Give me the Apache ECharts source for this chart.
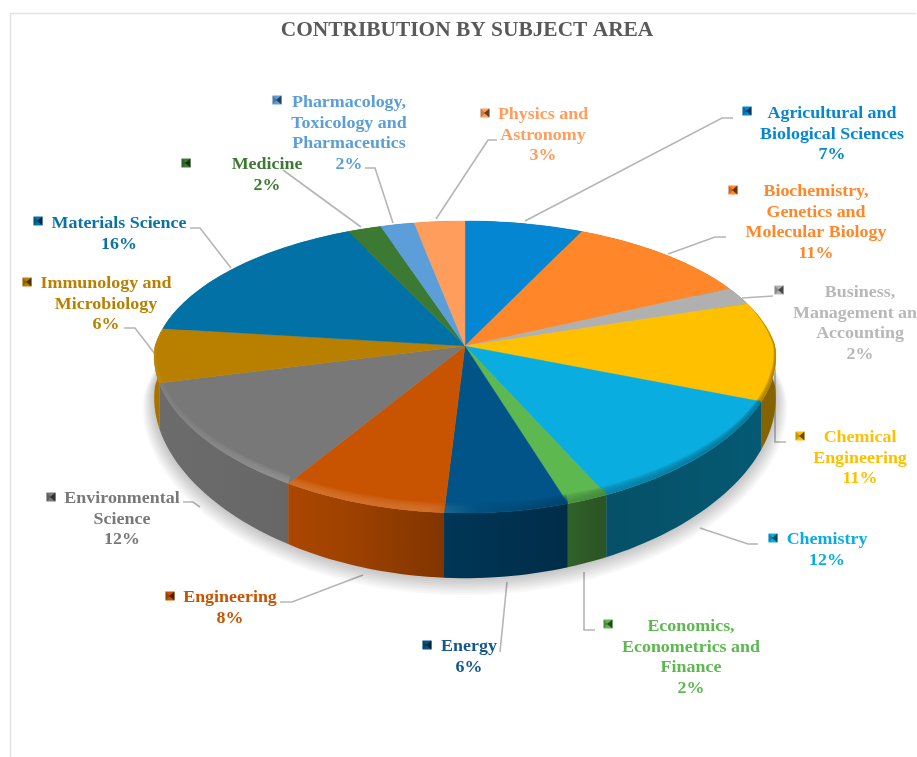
<!DOCTYPE html>
<html>
<head>
<meta charset="utf-8">
<style>html,body{margin:0;padding:0;background:#fff}#chart{width:917px;height:757px}</style>
<script src="https://cdn.jsdelivr.net/npm/echarts@6/dist/echarts.min.js"></script>
</head>
<body>
<div id="chart"></div>
<script>
// Share of publications per subject area, clockwise from twelve o'clock.
const categories = [
  'Agricultural and\nBiological Sciences',
  'Biochemistry,\nGenetics and\nMolecular Biology',
  'Business,\nManagement and\nAccounting',
  'Chemical\nEngineering',
  'Chemistry',
  'Economics,\nEconometrics and\nFinance',
  'Energy',
  'Engineering',
  'Environmental\nScience',
  'Immunology and\nMicrobiology',
  'Materials Science',
  'Medicine',
  'Pharmacology,\nToxicology and\nPharmaceutics',
  'Physics and\nAstronomy'
];
const shares = [7, 11, 2, 11, 12, 2, 6, 8, 12, 6, 16, 2, 2, 3];
const sliceColors = ['#0586d3', '#ff8729', '#b0b0b0', '#ffc000', '#0aade0', '#5cb84f', '#005487',
  '#c85300', '#787878', '#b98000', '#0271a6', '#3c7a34', '#5b9ed9', '#ff9e5c'];
const textColors = ['#0586d3', '#ff8729', '#b8b8b8', '#ffc000', '#0aade0', '#5cb84f', '#14568f',
  '#c85300', '#787878', '#b98000', '#0b72a6', '#3c7a34', '#5b9ed9', '#ff9e5c'];

// Annotation layout: label centre (x, y of the first line) and legend key centre.
const labelAt = [[832,113],[816,191],[860,292],[860,437],[827,539],[691,626],[469,646],
  [230,597],[122,498],[106,283],[119,223],[267,164],[349,102],[543,114]];
const keyAt = [[747,111],[733,190],[779,290],[800,436],[773,538],[608,624],[427,645],
  [170,596],[51,497],[27,282],[38,221],[186,163],[277,100],[485,113]];
const leaderPaths = [
  [[525,221],[722,118],[733,118]],
  [[668,254],[715,237],[726,237]],
  [[742,298],[773,296]],
  [[775,355],[775,442],[786,442]],
  [[700,528],[748,544],[758,544]],
  [[584,572],[584,630],[595,630]],
  [[507,582],[500,652]],
  [[363,575],[292,602],[280,602]],
  [[200,507],[193,502],[183,502]],
  [[155,354],[135,328],[124,328]],
  [[231,268],[200,228],[190,228]],
  [[361,227],[283,170]],
  [[393,223],[375,168],[365,168]],
  [[436,219],[488,140],[497,140]]
];

// Tilted disc: a perspective projection of the unit circle, top and bottom faces.
const disc = { cx: 465, rx: 310, tilt: 0.144, topY: 346, topK: 143, baseY: 386, baseK: 164.5 };
function project(deg, ru, rv, level) {
  const a = deg * Math.PI / 180;
  const u = ru * Math.sin(a), v = -rv * Math.cos(a), d = 1 - disc.tilt * v;
  const dx = v < 0 ? d : 1 - disc.tilt * 0.5 * v;
  const y = level === 'top' ? disc.topY + disc.topK * v / d : disc.baseY + disc.baseK * v / d;
  return [disc.cx + disc.rx * u / dx, y];
}
function arcPoints(a0, a1, ru, rv, level) {
  const n = Math.max(2, Math.ceil((a1 - a0) / 1.5)), pts = [];
  for (let i = 0; i <= n; i++) pts.push(project(a0 + (a1 - a0) * i / n, ru, rv, level));
  return pts;
}
const total = shares.reduce((s, v) => s + v, 0);
function sliceRange(i) {
  let before = 0;
  for (let k = 0; k < i; k++) before += shares[k];
  return [before / total * 360, (before + shares[i]) / total * 360];
}

function rgb(hex) { return [1, 3, 5].map(p => parseInt(hex.substr(p, 2), 16)); }
function shade(hex, f) {
  const c = rgb(hex).map(ch => f <= 1 ? ch * f : ch + (255 - ch) * (f - 1));
  return 'rgb(' + c.map(Math.round).join(',') + ')';
}
// Horizontal light falloff across the side wall and along the bevel of the rim.
const wallLight = [[0,.9],[.2,.86],[.3,.8],[.47,.64],[.65,.55],[.72,.46],[1,.52]];
const rimLight = [[0,1.06],[.2,1.2],[.44,1.2],[.52,.95],[.7,.72],[1,.62]];
function lightFill(hex, ramp) {
  return new echarts.graphic.LinearGradient(155, 0, 775, 0,
    ramp.map(s => ({ offset: s[0], color: shade(hex, s[1]) })), true);
}

const rows = shares.map((v, i) => ({ name: categories[i], value: [v] }));

function renderBase(params, api) {
  const i = params.dataIndex, [a0, a1] = sliceRange(i);
  const outer = arcPoints(a0, a1, 1, 1, 'top');
  const under = arcPoints(a0, a1, 1, 1, 'base').reverse();
  return { type: 'polygon', shape: { points: outer.concat(under) },
    style: { fill: lightFill(sliceColors[i], wallLight), stroke: null } };
}

// Inner edge of the bevel: it tapers off towards both ends of the lit range.
const bevelFrom = 72, bevelTo = 288;
function bevelEdge(a0, a1, depth) {
  const n = Math.max(2, Math.ceil((a1 - a0) / 1.5)), pts = [];
  for (let k = 0; k <= n; k++) {
    const a = a0 + (a1 - a0) * k / n;
    const w = depth * Math.min(1, (a - bevelFrom) / 30, (bevelTo - a) / 30);
    pts.push(project(a, 1 - w * 0.2, 1 - w, 'top'));
  }
  return pts.reverse();
}

function renderTop(params, api) {
  const i = params.dataIndex, [a0, a1] = sliceRange(i);
  const children = [{ type: 'polygon',
    shape: { points: [project(0, 0, 0, 'top')].concat(arcPoints(a0, a1, 1, 1, 'top')) },
    style: { fill: sliceColors[i], stroke: sliceColors[i], lineWidth: 0.4 } }];
  const b0 = Math.max(a0, bevelFrom), b1 = Math.min(a1, bevelTo);
  if (b1 > b0) {
    [.05, .04, .03, .02, .01].forEach(depth => {
      children.push({ type: 'polygon',
        shape: { points: arcPoints(b0, b1, 1, 1, 'top').concat(bevelEdge(b0, b1, depth)) },
        style: { fill: lightFill(sliceColors[i], rimLight), opacity: .3 } });
    });
  }
  return { type: 'group', children };
}

// Soft contact shadow: stacked, slightly growing copies of the footprint.
function renderShadow(params, api) {
  const children = [];
  for (let k = 8; k >= 1; k--) {
    const grow = 1 + k * 0.0045;
    children.push({ type: 'polygon',
      shape: { points: arcPoints(0, 360, grow, grow, 'base').map(p => [p[0], p[1] + k * 1.1]) },
      style: { fill: 'rgba(0,0,0,.028)' } });
  }
  return { type: 'group', children };
}

function renderNotes(params, api) {
  const i = params.dataIndex, [kx, ky] = keyAt[i], [lx, ly] = labelAt[i], s = 4.5;
  const pct = api.value(0);
  return { type: 'group', children: [
    { type: 'polyline', shape: { points: leaderPaths[i] },
      style: { stroke: '#b5b5b5', lineWidth: 1.6, fill: null } },
    { type: 'rect', shape: { x: kx - s, y: ky - s, width: 2 * s, height: 2 * s },
      style: { fill: sliceColors[i] } },
    { type: 'polygon', shape: { points: [[kx + s, ky - s], [kx + s, ky + s], [kx - 1, ky]] },
      style: { fill: 'rgba(0,0,0,.6)' } },
    { type: 'polygon', shape: { points: [[kx - s, ky - s], [kx - s, ky + s], [kx, ky]] },
      style: { fill: 'rgba(0,0,0,.22)' } },
    { type: 'text', x: lx, y: ly + 0.75 - 10.25, scaleX: 1.055, scaleY: 1,
      style: { text: categories[i] + '\n' + pct + '%', x: 0, y: 0,
        fill: textColors[i], align: 'center', verticalAlign: 'top', lineHeight: 20.5,
        font: 'bold 17px "Liberation Serif"' } }
  ] };
}

const chart = echarts.init(document.getElementById('chart'), null, { renderer: 'canvas' });
chart.setOption({
  animation: false,
  backgroundColor: '#fff',
  title: { text: 'CONTRIBUTION BY SUBJECT AREA', left: 462, top: 15, textAlign: 'center',
    textStyle: { fontFamily: 'Liberation Serif', fontWeight: 'bold', fontSize: 21.4, color: '#595959' } },
  graphic: [{ type: 'polyline', z: 0, silent: true,
    shape: { points: [[10.5, 760], [10.5, 13.5], [916, 13.5]] },
    style: { stroke: '#e2e2e2', lineWidth: 1.5, fill: null } }],
  series: [
    { type: 'custom', coordinateSystem: 'none', z: 1, silent: true, data: rows, renderItem: renderNotes },
    { type: 'custom', coordinateSystem: 'none', z: 2, silent: true, data: [{ name: 'footprint', value: [1] }],
      renderItem: renderShadow },
    { type: 'custom', coordinateSystem: 'none', z: 3, silent: true, data: rows, renderItem: renderBase },
    { type: 'custom', coordinateSystem: 'none', z: 4, silent: true, data: rows, renderItem: renderTop }
  ]
});
</script>
</body>
</html>
